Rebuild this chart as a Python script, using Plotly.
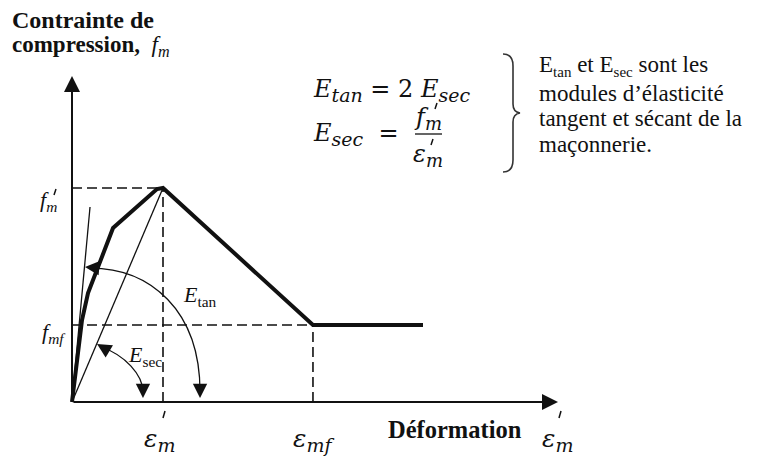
import plotly.graph_objects as go

# Stress–strain law of masonry in compression (normalised: eps'_m = 1, f'_m = 1)
curve_strain = [0.0, 0.055, 0.110, 0.176, 0.275, 0.451, 0.934, 1.0, 2.648, 3.857]
curve_stress = [0.0, 0.196, 0.383, 0.509, 0.617, 0.813, 0.995, 1.0, 0.36, 0.36]

eps_peak, f_peak = 1.0, 1.0          # eps'_m, f'_m
eps_mf, f_mf = 2.648, 0.36           # eps_mf, f_mf
tangent_end = (0.198, 0.911)         # end of the initial tangent (E_tan)
x_axis_end, y_axis_end = 5.341, 1.523

W, H = 759, 456
SERIF = "Liberation Serif, Times New Roman, serif"
MATH = "DejaVu Serif, serif"
INK = "#111111"


def fx(p):
    return p / W


def fy(p):
    return 1 - p / H


fig = go.Figure()

# main curve
fig.add_trace(go.Scatter(x=curve_strain, y=curve_stress, mode="lines",
                         line=dict(color=INK, width=4), hoverinfo="skip"))
# tangent and secant moduli
fig.add_trace(go.Scatter(x=[0, tangent_end[0]], y=[0, tangent_end[1]], mode="lines",
                         line=dict(color=INK, width=1.3), hoverinfo="skip"))
fig.add_trace(go.Scatter(x=[0, eps_peak], y=[0, f_peak], mode="lines",
                         line=dict(color=INK, width=1.3), hoverinfo="skip"))

dash = dict(color=INK, width=1.6, dash="10px,5px")
# dashed reference lines
for xs, ys in [([0, eps_peak], [f_peak, f_peak]),
               ([eps_peak, eps_peak], [0, f_peak]),
               ([0, eps_mf], [f_mf, f_mf]),
               ([eps_mf, eps_mf], [0, f_mf])]:
    fig.add_trace(go.Scatter(x=xs, y=ys, mode="lines", line=dash, hoverinfo="skip"))

shapes = []
# curved arrows for the moduli
shapes.append(dict(type="path", xref="x", yref="y",
                   path="M 0.198,0.626 C 0.857,0.626 1.407,0.430 1.407,0.047",
                   line=dict(color=INK, width=1.3)))
shapes.append(dict(type="path", xref="x", yref="y",
                   path="M 0.319,0.257 C 0.582,0.220 0.780,0.126 0.780,0.047",
                   line=dict(color=INK, width=1.3)))

# fraction bar of E_sec
shapes.append(dict(type="line", xref="paper", yref="paper",
                   x0=fx(415), x1=fx(442), y0=fy(134), y1=fy(134),
                   line=dict(color=INK, width=1.3)))


def prime(x, y, h=7, width=1.5):
    """Small slanted stroke used as the prime mark."""
    shapes.append(dict(type="line", xref="paper", yref="paper",
                       x0=fx(x + 1), y0=fy(y), x1=fx(x - 1), y1=fy(y + h),
                       line=dict(color=INK, width=width)))


prime(55, 189, 6)
prime(164, 411)
prime(560, 411)
prime(436, 103, 6)
prime(432, 139, 6)

# curly brace
brace = (f"M {fx(503)},{fy(54)} Q {fx(513)},{fy(54)} {fx(513)},{fy(66)} "
         f"L {fx(513)},{fy(104)} Q {fx(513)},{fy(112)} {fx(520)},{fy(113)} "
         f"Q {fx(513)},{fy(114)} {fx(513)},{fy(122)} "
         f"L {fx(513)},{fy(160)} Q {fx(513)},{fy(172)} {fx(503)},{fy(172)}")
shapes.append(dict(type="path", xref="paper", yref="paper", path=brace,
                   line=dict(color="#333333", width=1.6)))

ann = []


def arrow(x, y, ax, ay, width=1.3, size=2.2):
    ann.append(dict(x=x, y=y, ax=ax, ay=ay, xref="x", yref="y", axref="x", ayref="y",
                    text="", showarrow=True, arrowhead=2, arrowsize=size,
                    arrowwidth=width, arrowcolor=INK, standoff=0, startstandoff=0))


# axes
arrow(x_axis_end, 0, 0, 0, width=2, size=1.6)
arrow(0, y_axis_end, 0, 0, width=2, size=1.6)
# arrow heads of the curved arrows
arrow(0.143, 0.631, 0.275, 0.626)
arrow(1.407, 0.019, 1.407, 0.075)
arrow(0.275, 0.271, 0.385, 0.243)
arrow(0.780, 0.019, 0.780, 0.075)


def label(text, x, y, size, xanchor="left", family=SERIF, color=INK):
    ann.append(dict(text=text, x=fx(x), y=fy(y), xref="paper", yref="paper",
                    xanchor=xanchor, yanchor="middle", showarrow=False,
                    font=dict(family=family, size=size, color=color)))


def sub(text, px):
    return f"<sub><span style='font-size:{px}px'>{text}</span></sub>"


# y-axis title
label("<b>Contrainte de</b>", 10, 20, 24)
label("<b>compression,</b>  <i>f</i><sub><i>m</i></sub>", 10, 46, 23)

# y labels
label("<i>f</i><sub><i>m</i></sub>", 59, 201, 22, xanchor="right")
label("<i>f</i><sub><i>mf</i></sub>", 68, 333, 22, xanchor="right")

# moduli labels
label("<i>E</i><sub>tan</sub>", 181, 296, 22)
label("<i>E</i><sub>sec</sub>", 126, 356, 22)

# x labels
label("<i>ε</i>" + sub("<i>m</i>", 19), 159, 440, 25, xanchor="center", family=MATH)
label("<i>ε</i>" + sub("<i>mf</i>", 19), 313, 440, 25, xanchor="center", family=MATH)
label("<b>Déformation</b>", 386, 429, 24.5)
label("<i>ε</i>" + sub("<i>m</i>", 19), 557, 440, 25, xanchor="center", family=MATH)

# formulas
label("<i>E</i>" + sub("<i>tan</i>", 19) + " = 2 <i>E</i>" + sub("<i>sec</i>", 19),
      311, 90, 24, family=MATH)
label("<i>E</i>" + sub("<i>sec</i>", 19) + "  =", 311, 134, 24, family=MATH)
label("<i>f</i>" + sub("<i>m</i>", 18), 428, 118, 24, xanchor="center", family=MATH)
label("<i>ε</i>" + sub("<i>m</i>", 18), 428, 156, 24, xanchor="center", family=MATH)

# note beside the brace
label("E" + sub("tan", 15) + " et E" + sub("sec", 15) + " sont les", 537, 66, 23)
label("modules d’élasticité", 537, 94, 23)
label("tangent et sécant de la", 537, 119, 23)
label("maçonnerie.", 537, 144, 23)

fig.update_layout(
    width=W, height=H, margin=dict(l=0, r=0, t=0, b=0),
    paper_bgcolor="white", plot_bgcolor="white", showlegend=False,
    xaxis=dict(range=[-72 / 91, 687 / 91], visible=False, fixedrange=True),
    yaxis=dict(range=[-54 / 214, 402 / 214], visible=False, fixedrange=True),
    shapes=shapes, annotations=ann,
)

fig.write_html("out.html")
